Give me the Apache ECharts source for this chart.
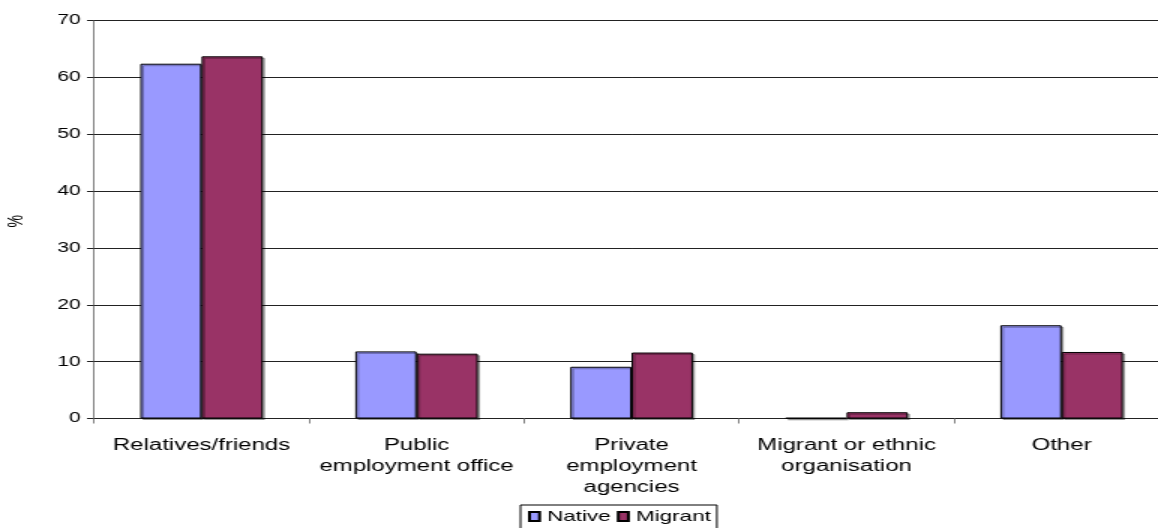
<!DOCTYPE html>
<html>
<head>
<meta charset="utf-8">
<script src="https://cdn.jsdelivr.net/npm/echarts@6/dist/echarts.min.js"></script>
<style>
  html, body { margin: 0; padding: 0; background: #fff; overflow: hidden; }
  #wrap { width: 1158px; height: 528px; overflow: hidden; position: relative; }
  /* chart is laid out at a narrower width and stretched horizontally;
     the plot runs slightly past the right edge of the page */
  #chart { width: 790px; height: 528px; transform: scaleX(1.5); transform-origin: 0 0; }
</style>
</head>
<body>
<div id="wrap"><div id="chart"></div></div>
<script>
const categories = [
  'Relatives/friends',
  'Public\nemployment office',
  'Private\nemployment\nagencies',
  'Migrant or ethnic\norganisation',
  'Other'
];
const nativeValues  = [62.4, 11.8, 9.1, 0.1, 16.4];
const migrantValues = [63.7, 11.4, 11.6, 1.1, 11.7];
const yTicks = { min: 0, max: 70, interval: 10 };
const yAxisTitle = '%';

const FONT = '"Liberation Sans", Arial, sans-serif';

const chart = echarts.init(document.getElementById('chart'));
chart.setOption({
  animation: false,
  backgroundColor: '#fff',
  textStyle: { fontFamily: FONT, color: '#000' },
  grid: { left: 62.7, width: 716.7, top: 20.5, bottom: 109.5, containLabel: false },
  xAxis: {
    type: 'category',
    data: categories,
    axisLine: { show: true, lineStyle: { color: '#222', width: 1 } },
    axisTick: { show: true, length: 5, lineStyle: { color: '#808080' } },
    axisLabel: {
      color: '#000', fontFamily: FONT, fontSize: 16, lineHeight: 21,
      margin: 17, interval: 0
    },
    splitLine: { show: false }
  },
  yAxis: {
    type: 'value',
    min: yTicks.min, max: yTicks.max, interval: yTicks.interval,
    axisLine: { show: true, lineStyle: { color: '#808080', width: 1 } },
    axisTick: { show: true, length: 4.7, lineStyle: { color: '#222' } },
    axisLabel: { color: '#000', fontFamily: FONT, fontSize: 14, margin: 9 },
    splitLine: { show: true, lineStyle: { color: '#222', width: 1 } }
  },
  graphic: [{
    type: 'text',
    left: 4, top: 215,
    rotation: Math.PI / 2,
    style: { text: yAxisTitle, font: '14px ' + FONT, fill: '#000' }
  }],
  legend: {
    left: 347, top: 505,
    orient: 'horizontal',
    borderColor: '#000', borderWidth: 1,
    padding: [4, 4, 6, 5],
    itemWidth: 6.7, itemHeight: 9, itemGap: 4,
    icon: 'rect',
    textStyle: { fontFamily: FONT, fontSize: 15, color: '#000' },
    data: ['Native', 'Migrant']
  },
  series: [
    {
      name: 'Native', type: 'bar', data: nativeValues,
      barGap: '0%', barCategoryGap: '43%',
      itemStyle: {
        color: '#9999FF', borderColor: '#000', borderWidth: 1,
        shadowColor: 'rgba(0,0,0,0.3)', shadowOffsetX: 1.5, shadowOffsetY: 1.5
      }
    },
    {
      name: 'Migrant', type: 'bar', data: migrantValues,
      barGap: '0%', barCategoryGap: '43%',
      itemStyle: {
        color: '#993366', borderColor: '#000', borderWidth: 1,
        shadowColor: 'rgba(0,0,0,0.3)', shadowOffsetX: 1.5, shadowOffsetY: 1.5
      }
    }
  ]
});
</script>
</body>
</html>
